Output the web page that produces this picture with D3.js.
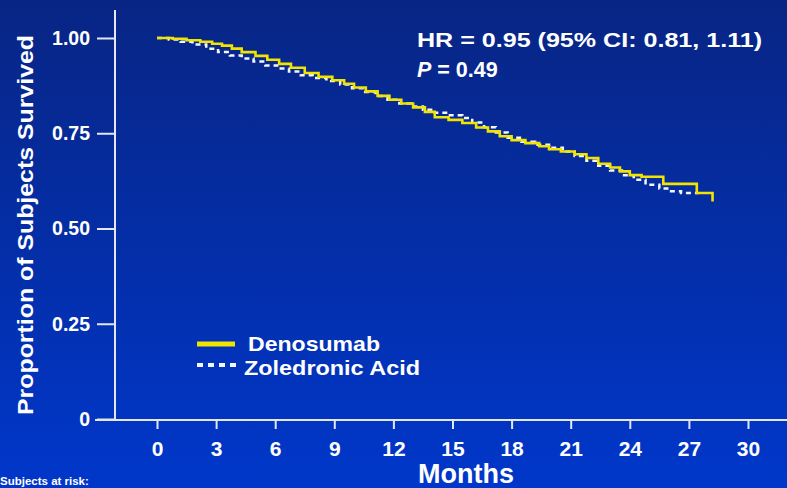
<!DOCTYPE html>
<html>
<head>
<meta charset="utf-8">
<script src="https://cdn.jsdelivr.net/npm/d3@7"></script>
<style>
  html, body { margin: 0; padding: 0; overflow: hidden; background: #0a2a90; }
  svg { display: block; font-family: "Liberation Sans", Arial, sans-serif; font-weight: bold; }
</style>
</head>
<body>
<svg id="chart" width="787" height="488"></svg>
<script>
// Kaplan-Meier steps: [month, proportion surviving]
const denosumab = [
  [0, 1.000], [0.8, 0.998], [1.5, 0.994], [2.2, 0.990], [2.8, 0.985], [3.3, 0.980],
  [3.8, 0.972], [4.3, 0.963], [5.0, 0.953], [5.6, 0.943], [6.2, 0.932], [6.8, 0.922],
  [7.5, 0.908], [8.2, 0.898], [8.9, 0.889], [9.5, 0.880], [10.0, 0.870], [10.6, 0.860],
  [11.2, 0.848], [11.8, 0.838], [12.4, 0.828], [13.0, 0.818], [13.6, 0.806], [14.1, 0.792],
  [14.8, 0.785], [15.5, 0.777], [16.2, 0.765], [16.8, 0.755], [17.4, 0.742], [18.0, 0.732],
  [18.7, 0.724], [19.4, 0.716], [19.9, 0.708], [20.5, 0.702], [21.2, 0.695], [21.8, 0.685],
  [22.4, 0.670], [23.0, 0.660], [23.5, 0.650], [24.0, 0.640], [24.6, 0.636], [25.7, 0.617],
  [27.4, 0.593], [28.2, 0.571]
];
const zoledronic = [
  [0, 1.000], [0.6, 0.996], [1.2, 0.990], [1.8, 0.983], [2.5, 0.972], [3.1, 0.963],
  [3.7, 0.954], [4.3, 0.946], [4.9, 0.938], [5.5, 0.928], [6.1, 0.920], [6.7, 0.912],
  [7.3, 0.902], [7.9, 0.895], [8.6, 0.887], [9.3, 0.878], [9.9, 0.868], [10.5, 0.858],
  [11.1, 0.848], [11.7, 0.838], [12.3, 0.828], [12.9, 0.820], [13.5, 0.812], [14.1, 0.804],
  [14.8, 0.797], [15.5, 0.790], [16.0, 0.778], [16.6, 0.766], [17.2, 0.752], [17.8, 0.738],
  [18.5, 0.728], [19.2, 0.720], [19.9, 0.712], [20.6, 0.702], [21.2, 0.690], [21.8, 0.678],
  [22.4, 0.665], [23.0, 0.652], [23.6, 0.640], [24.2, 0.628], [24.8, 0.615], [25.5, 0.605],
  [26.0, 0.598], [26.6, 0.593], [27.5, 0.593]
];
const monthTicks = [0, 3, 6, 9, 12, 15, 18, 21, 24, 27, 30];
const survTicks = [0, 0.25, 0.5, 0.75, 1];
const seriesNames = ['Denosumab', 'Zoledronic Acid'];
const statLines = ['HR = 0.95 (95% CI: 0.81, 1.11)', '= 0.49'];

const svg = d3.select('#chart');
const W = 787, H = 488;

// background gradient
const grad = svg.append('defs').append('linearGradient')
  .attr('id', 'bg').attr('x1', 0).attr('y1', 0).attr('x2', 0).attr('y2', 1);
grad.append('stop').attr('offset', '0%').attr('stop-color', '#082584');
grad.append('stop').attr('offset', '100%').attr('stop-color', '#0037ca');
svg.append('rect').attr('width', W).attr('height', H).attr('fill', 'url(#bg)');

const x = d3.scaleLinear().domain([0, 30]).range([157, 748]);
const y = d3.scaleLinear().domain([0, 1]).range([419, 38]);
const axisColor = '#e4e6f2';

// y axis
const yAxis = svg.append('g')
  .attr('transform', 'translate(115,0)')
  .call(d3.axisLeft(y).tickValues(survTicks).tickSize(18).tickPadding(7)
    .tickFormat(d => d === 0 ? '0' : d3.format('.2f')(d)));
yAxis.select('.domain').remove();
yAxis.append('line').attr('y1', 10).attr('y2', 420).attr('stroke', axisColor).attr('stroke-width', 2);
yAxis.selectAll('.tick line').attr('stroke', axisColor).attr('stroke-width', 2);
yAxis.selectAll('.tick text').attr('fill', '#fff').attr('font-size', 19.5).attr('font-weight', 'bold')
  .attr('font-family', '"Liberation Sans", Arial, sans-serif');

// x axis
const xAxis = svg.append('g')
  .attr('transform', 'translate(0,420)')
  .call(d3.axisBottom(x).tickValues(monthTicks).tickSize(9).tickPadding(12));
xAxis.select('.domain').remove();
xAxis.append('line').attr('x1', 95).attr('x2', W).attr('stroke', axisColor).attr('stroke-width', 2);
xAxis.selectAll('.tick line').attr('stroke', axisColor).attr('stroke-width', 2);
xAxis.selectAll('.tick text').attr('fill', '#fff').attr('font-size', 21).attr('font-weight', 'bold')
  .attr('font-family', '"Liberation Sans", Arial, sans-serif');

// axis titles
svg.append('text')
  .attr('transform', 'translate(33,225) rotate(-90)')
  .attr('text-anchor', 'middle').attr('fill', '#fff').attr('font-size', 21.5)
  .attr('textLength', 380).attr('lengthAdjust', 'spacingAndGlyphs')
  .text('Proportion of Subjects Survived');
svg.append('text')
  .attr('x', 466).attr('y', 483).attr('text-anchor', 'middle')
  .attr('fill', '#fff').attr('font-size', 27)
  .text('Months');
svg.append('text')
  .attr('x', 0).attr('y', 485).attr('fill', '#fff').attr('font-size', 11.5)
  .text('Subjects at risk:');

// survival curves
const line = d3.line().x(d => x(d[0])).y(d => y(d[1])).curve(d3.curveStepAfter);
svg.append('path').datum(zoledronic)
  .attr('d', line).attr('fill', 'none')
  .attr('stroke', '#f4f6ff').attr('stroke-width', 2.5).attr('stroke-dasharray', '5,4');
svg.append('path').datum(denosumab)
  .attr('d', line).attr('fill', 'none')
  .attr('stroke', '#f0e400').attr('stroke-width', 2.6);

// statistics
svg.append('text').attr('x', 417).attr('y', 47).attr('fill', '#fff').attr('font-size', 21)
  .attr('textLength', 345).attr('lengthAdjust', 'spacingAndGlyphs')
  .text(statLines[0]);
const pText = svg.append('text').attr('x', 417).attr('y', 77).attr('fill', '#fff').attr('font-size', 21.5);
pText.append('tspan').attr('font-style', 'italic').text('P');
pText.append('tspan').text(' ' + statLines[1]);

// legend
const legend = svg.append('g').attr('transform', 'translate(197,344)');
legend.append('line').attr('x1', 0).attr('x2', 38)
  .attr('stroke', '#f0e400').attr('stroke-width', 5);
legend.append('line').attr('x1', 0).attr('x2', 40).attr('y1', 21).attr('y2', 21)
  .attr('stroke', '#f4f6ff').attr('stroke-width', 4).attr('stroke-dasharray', '6,5');
legend.selectAll('text.lg').data(seriesNames).join('text')
  .attr('class', 'lg')
  .attr('x', (d, i) => i === 0 ? 51 : 47)
  .attr('y', (d, i) => 7 + i * 24)
  .attr('fill', '#fff').attr('font-size', 20.5)
  .attr('textLength', (d, i) => i === 0 ? 132 : 176).attr('lengthAdjust', 'spacingAndGlyphs')
  .text(d => d);
</script>
</body>
</html>
